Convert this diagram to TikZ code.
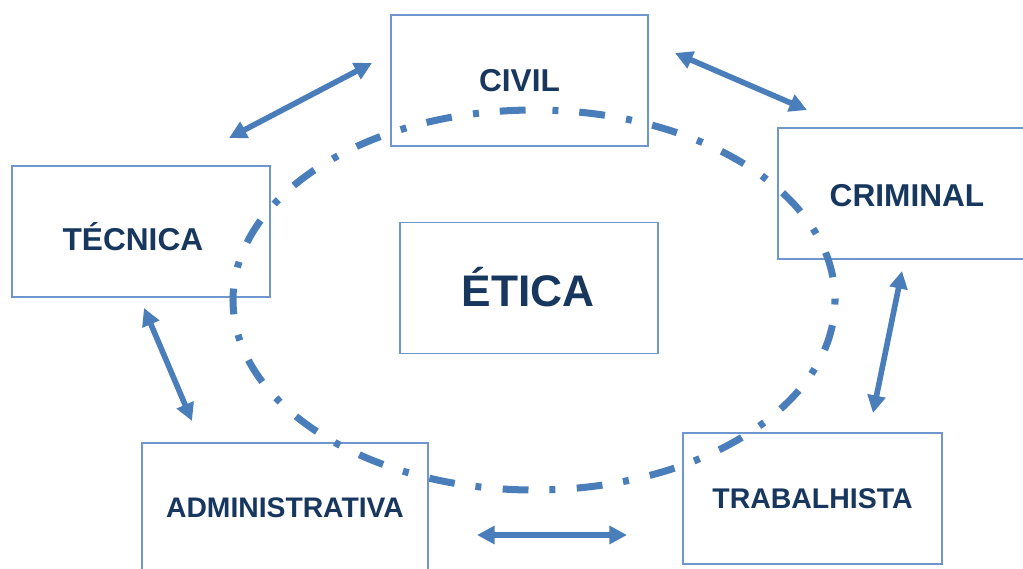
\documentclass[tikz,border=0pt]{standalone}
\usepackage{fontspec}
\setmainfont{Liberation Sans}
\usetikzlibrary{arrows.meta}

\definecolor{boxline}{RGB}{112,150,208}
\definecolor{linkblue}{RGB}{74,126,187}
\definecolor{labelnavy}{RGB}{23,55,94}

\tikzset{
  area/.style={draw=boxline, line width=0.8pt, minimum height=2.62cm, inner sep=0pt, text depth=0pt, text=labelnavy},
  link/.style={linkblue, line width=3.2pt, {Triangle[length=10pt,width=10pt]}-{Triangle[length=10pt,width=10pt]}},
  oval/.style={linkblue, line width=4pt, dash pattern=on 14.7pt off 12.2pt on 3.4pt off 11.9pt, dash phase=16.4pt}
}

\begin{document}
\begin{tikzpicture}[x=0.02cm, y=-0.02cm]

	\useasboundingbox (0,0) rectangle (1023,568);

	% the six areas
	\foreach \name/\x/\y/\w/\fs/\th/\sh/\txt in {civil/519.5/80.5/5.14/18/12.9/0/CIVIL, tecnica/141/231.5/5.16/18/21.4/4.6/TÉCNICA,
		criminal/907/193.5/5.16/18/14.6/0/CRIMINAL, etica/529/288/5.16/25.2/20.8/0.5/ÉTICA,
		admin/285/508.5/5.72/16.1/10.4/0/ADMINISTRATIVA, trab/812.5/498.5/5.18/16.2/11.6/0/TRABALHISTA} {
		\node[area, minimum width=\w cm, text height=\th pt, font=\fontsize{\fs}{\fs}\selectfont\bfseries] (\name) at (\x,\y)
			{\hspace*{-\sh pt}\txt\hspace*{\sh pt}};
	}

	% dashed ring, started at its top
	\draw[oval] (534,110) arc[start angle=-90, end angle=270, x radius=301, y radius=190];

	% arrow ends
	\foreach \i/\px/\py in {0/372/63, 1/229/138, 2/675/53, 3/807/110, 4/902/271, 5/873/413,
		6/144/308, 7/192/421, 8/477/535, 9/627/535} {
		\coordinate (p\i) at (\px,\py);
	}
	\draw[link] (p0) -- (p1);
	\draw[link] (p2) -- (p3);
	\draw[link] (p4) -- (p5);
	\draw[link] (p6) -- (p7);
	\draw[link] (p8) -- (p9);

\end{tikzpicture}
\end{document}
